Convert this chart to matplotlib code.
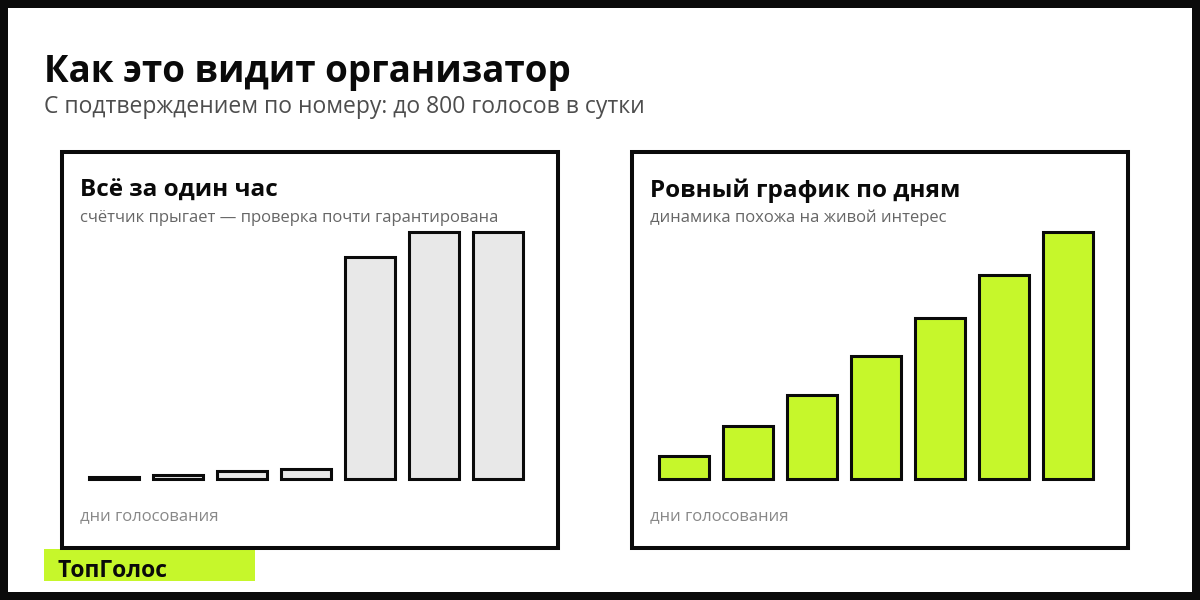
import matplotlib.pyplot as plt
from matplotlib.patches import Rectangle

plt.rcParams['font.family'] = ['Open Sans', 'DejaVu Sans']

# data
days = list(range(7))
fast_votes = [6, 14, 25, 33, 720, 800, 800]
even_votes = [74, 171, 274, 398, 524, 663, 800]
y_max = 800

title = "Как это видит организатор"
subtitle = "С подтверждением по номеру: до 800 голосов в сутки"
panels = [
    ("Всё за один час", "счётчик прыгает — проверка почти гарантирована", fast_votes, "#e8e8e8"),
    ("Ровный график по дням", "динамика похожа на живой интерес", even_votes, "#c6f72b"),
]
x_label = "дни голосования"
brand = "ТопГолос"

W, H = 1200, 600
LIME = "#c6f72b"
INK = "#0a0a0a"

fig = plt.figure(figsize=(12, 6), dpi=100, facecolor=INK)


def fx(x):
    return x / W


def fy(y):
    return 1 - y / H


def px_rect(x0, y0, x1, y1, **kw):
    r = Rectangle((fx(x0), fy(y1)), fx(x1) - fx(x0), fy(y0) - fy(y1),
                  transform=fig.transFigure, **kw)
    fig.add_artist(r)
    return r


# white canvas inside black frame
px_rect(8, 8, 1192, 592, facecolor="white", edgecolor="none", zorder=0)

fig.text(fx(44), fy(82), title, fontsize=26.5, fontweight="bold", color=INK, va="baseline")
fig.text(fx(44), fy(113), subtitle, fontsize=16.5, color="#4d4d4d", va="baseline")

for i, (ptitle, psub, vals, fill) in enumerate(panels):
    off = i * 570
    # panel frame
    px_rect(62 + off, 152, 558 + off, 548, facecolor="white", edgecolor=INK, lw=2.9, zorder=2)
    fig.text(fx(80 + off), fy(197), ptitle, fontsize=17.5, fontweight="bold", color=INK,
             va="baseline", zorder=5)
    fig.text(fx(80 + off), fy(221.5), psub, fontsize=12, color="#666666",
             va="baseline", zorder=5)
    fig.text(fx(80 + off), fy(520.5), x_label, fontsize=12, color="#888888",
             va="baseline", zorder=5)

    ax = fig.add_axes([fx(82 + off), fy(479.2), fx(448), (479.2 - 232.5) / H], zorder=4)
    ax.set_xlim(-0.5, 6.5)
    ax.set_ylim(0, y_max)
    ax.bar(days, vals, width=0.77, color=fill, edgecolor=INK, linewidth=2.2, clip_on=False)
    ax.axis("off")

# brand tag
px_rect(44, 549, 255, 581, facecolor=LIME, edgecolor="none", zorder=1)
fig.text(fx(57), fy(577), brand, fontsize=16.5, fontweight="bold", color=INK, va="baseline", zorder=6)

fig.savefig("out.png", dpi=100, facecolor=INK)
